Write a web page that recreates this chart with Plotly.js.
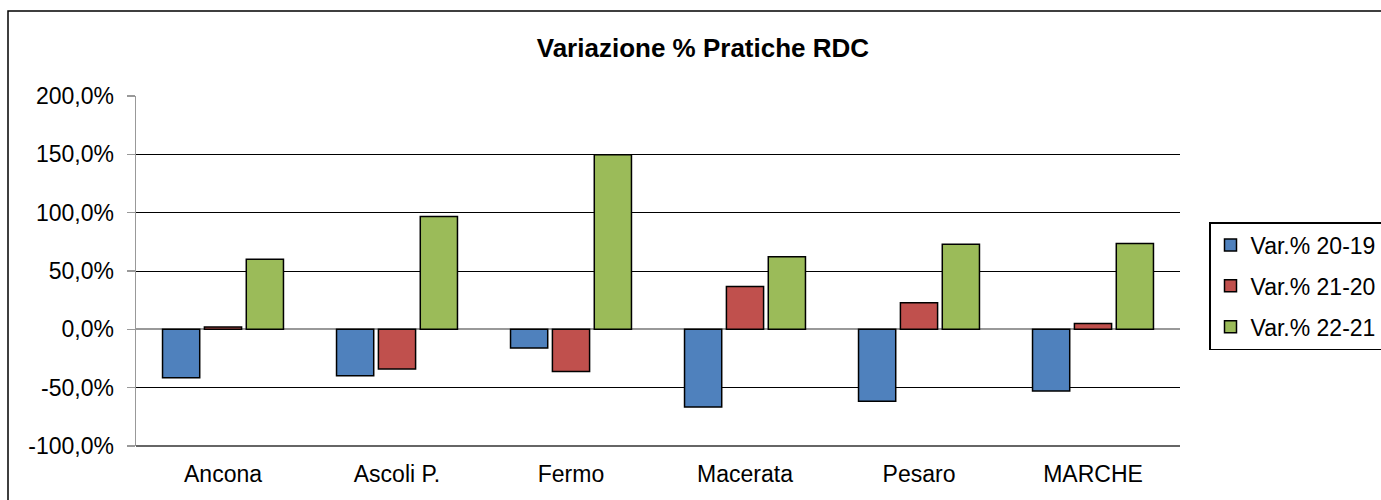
<!DOCTYPE html>
<html>
<head>
<meta charset="utf-8">
<script src="https://cdn.plot.ly/plotly-3.0.1.min.js"></script>
<style>
  html, body { margin: 0; padding: 0; background: #fff; }
  #chart { width: 1381px; height: 500px; }
</style>
</head>
<body>
<div id="chart"></div>
<script>
const categories = ["Ancona", "Ascoli P.", "Fermo", "Macerata", "Pesaro", "MARCHE"];
const seriesNames = ["Var.% 20-19", "Var.% 21-20", "Var.% 22-21"];
const var2019 = [-41.4, -39.7, -16.0, -66.5, -61.6, -52.8];
const var2120 = [2.0, -34.0, -36.2, 36.8, 22.8, 5.1];
const var2221 = [60.0, 96.7, 149.6, 62.2, 73.0, 73.6];
const yTicks = [-100, -50, 0, 50, 100, 150, 200];
const yTickLabels = ["-100,0%", "-50,0%", "0,0%", "50,0%", "100,0%", "150,0%", "200,0%"];
const colors = ["#4F81BD", "#C0504D", "#9BBB59"];

const FONT = "Liberation Sans, Arial, sans-serif";
const allSeries = [var2019, var2120, var2221];

const traces = allSeries.map((vals, i) => ({
  type: "bar",
  name: seriesNames[i],
  x: categories,
  y: vals,
  legendgroup: "g" + i,
  marker: { color: colors[i], line: { color: "#000", width: 1.5 } },
  hoverinfo: "x+y+name"
}));

// boundary ticks along the zero line
const boundaries = [];
for (let i = 0; i <= categories.length; i++) boundaries.push(i - 0.5);
const yMin = yTicks[0], yMax = yTicks[yTicks.length - 1];
const zeroPos = (0 - yMin) / (yMax - yMin);

const L = 136, R = 201, T = 96, B = 54, W = 1381, H = 500;
const pw = W - L - R, ph = H - T - B;

const layout = {
  width: W, height: H,
  margin: { l: L, r: R, t: T, b: B, pad: 0, autoexpand: false },
  paper_bgcolor: "#fff",
  plot_bgcolor: "#fff",
  font: { family: FONT, size: 23, color: "#000" },
  title: {
    text: "<b>Variazione % Pratiche RDC</b>",
    font: { family: FONT, size: 26, color: "#000" },
    xref: "container", yref: "container",
    x: 0.509, y: 1 - 48 / H, xanchor: "center", yanchor: "middle"
  },
  barmode: "group",
  bargap: 0.278,
  bargroupgap: 0.112,
  xaxis: {
    type: "category",
    categoryarray: categories,
    range: [-0.5, categories.length - 0.5],
    showgrid: false,
    showline: false,
    zeroline: false,
    ticks: "",
    ticklabelstandoff: 12,
    tickfont: { family: FONT, size: 23, color: "#000" },
    fixedrange: true
  },
  xaxis2: {
    overlaying: "x",
    anchor: "free",
    position: zeroPos,
    side: "bottom",
    range: [-0.5, categories.length - 0.5],
    tickmode: "array",
    tickvals: boundaries,
    ticks: "outside",
    ticklen: 6,
    tickwidth: 1.5,
    tickcolor: "#999",
    showticklabels: false,
    showgrid: false,
    showline: false,
    zeroline: false,
    fixedrange: true
  },
  yaxis: {
    range: [yMin, yMax],
    tickmode: "array",
    tickvals: yTicks,
    ticktext: yTickLabels,
    showgrid: true,
    gridcolor: "#000",
    gridwidth: 1,
    zeroline: true,
    zerolinecolor: "#999",
    zerolinewidth: 2,
    showline: true,
    linecolor: "#999",
    linewidth: 1.5,
    ticks: "outside",
    ticklen: 8,
    tickwidth: 1.5,
    tickcolor: "#999",
    ticklabelstandoff: 8,
    tickfont: { family: FONT, size: 23, color: "#000" },
    fixedrange: true
  },
  showlegend: true,
  legend: {
    x: (1209 - L) / pw,
    y: (H - B - 222) / ph,
    xanchor: "left",
    yanchor: "top",
    bgcolor: "#fff",
    bordercolor: "#000",
    borderwidth: 1.5,
    font: { family: FONT, size: 23, color: "#000" },
    traceorder: "grouped",
    tracegroupgap: 8,
    itemwidth: 30
  },
  shapes: [
    {
      type: "rect", xref: "paper", yref: "paper", layer: "below",
      x0: (8 - L) / pw, x1: (W + 20 - L) / pw,
      y0: -(B + 20) / ph, y1: (H - B - 11) / ph,
      line: { color: "#000", width: 1.5 },
      fillcolor: "rgba(0,0,0,0)"
    },
    {
      type: "line", xref: "paper", yref: "paper", layer: "above",
      x0: 0, x1: 1, y0: 0, y1: 0,
      line: { color: "#666", width: 2 }
    }
  ]
};

Plotly.newPlot("chart", traces, layout, { displayModeBar: false, staticPlot: true });
</script>
</body>
</html>
